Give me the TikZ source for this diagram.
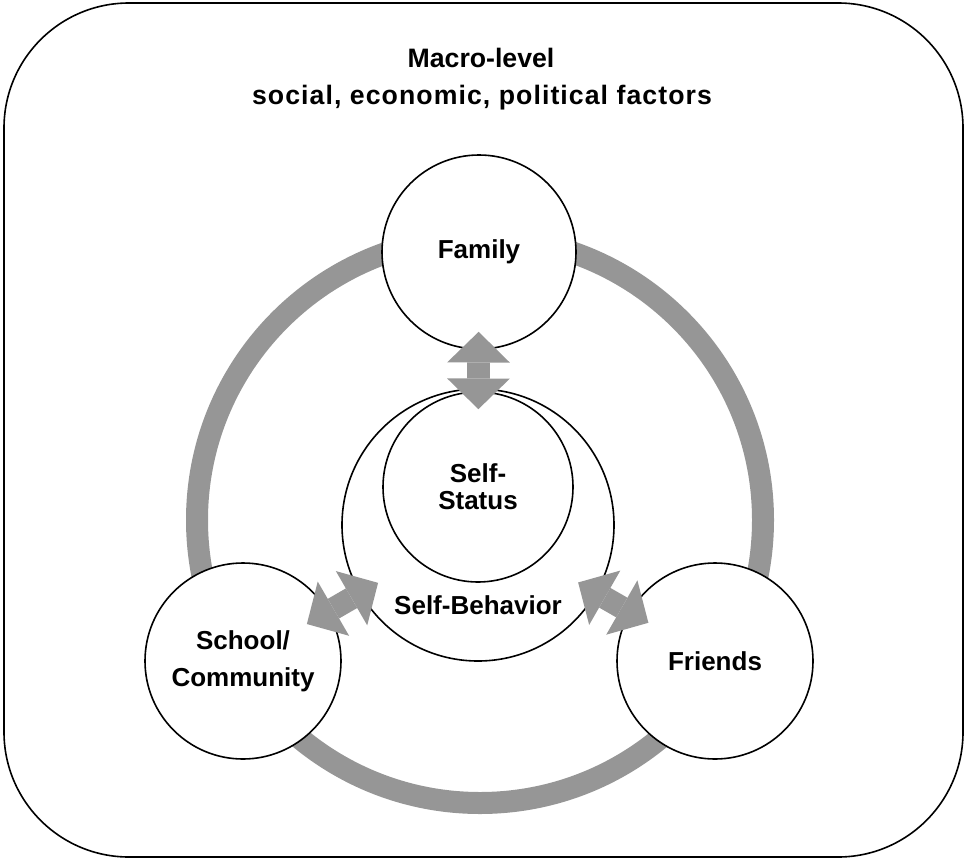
\documentclass[tikz,border=0pt]{standalone}
\usepackage{fontspec}
\setmainfont{Liberation Sans}
\usepackage{tikz}
\usetikzlibrary{positioning}
\usetikzlibrary{arrows.meta}
\definecolor{ringgray}{RGB}{150,150,150}

\begin{document}
\begin{tikzpicture}[x=0.75pt,y=-0.75pt,
  lbl/.style={font=\fontsize{19.5}{27.75}\selectfont\bfseries, align=center},
  sphere/.style={circle, draw, line width=1.2pt, fill=white, inner sep=0pt, lbl},
  ring/.style={circle, draw=ringgray, line width=16.5pt, inner sep=0pt, minimum size=424.5pt},
  twoway/.style={draw=ringgray, line width=17pt, >={Triangle[length=23pt,width=47pt,line width=0pt]}, <->}]
\useasboundingbox (0,0) rectangle (967,860);
% Frame
\draw [line width=1.2pt, rounded corners=93.75pt] (4,3) rectangle (963,857);
\node[lbl, font=\fontsize{20}{27.75}\selectfont\bfseries, anchor=base] (macro) at (481,67) {Macro-level};
\node[lbl, font=\fontsize{20}{27.75}\selectfont\bfseries\addfontfeature{LetterSpace=4}, anchor=base] (factors) at (482,104) {social, economic, political factors};
% Ring and circles
\node[ring] (ring) at (480,520) {};
\node[sphere, minimum size=145.5pt] (family) at (479,252) {Family};
\node[sphere, minimum size=204pt] (behavior) at (478,525) {};
\node[lbl] (behaviortext) at (478,605) {Self-Behavior};
\node[sphere, minimum size=142.5pt, font=\fontsize{19.5}{20.25}\selectfont\bfseries] (status) at (478,487) {Self-\\Status};
\node[sphere, minimum size=147pt] (school) at (243,661) {School/\\Community};
\node[sphere, minimum size=147pt] (friends) at (715,661) {Friends};
% Arrows
\draw [twoway, shorten <=-13.5pt, shorten >=-13.5pt] (family) -- (status);
\draw [twoway, shorten <=-16pt, shorten >=-18.75pt] (behavior) -- (school);
\draw [twoway, shorten <=-16pt, shorten >=-16.5pt] (behavior) -- (friends);
\end{tikzpicture}
\end{document}
